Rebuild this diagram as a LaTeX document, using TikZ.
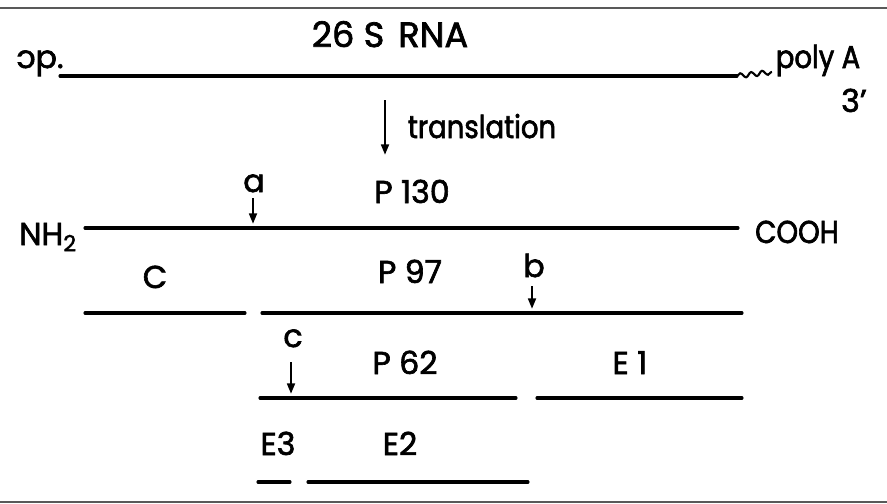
\documentclass[tikz,border=0pt]{standalone}
\usepackage{fontspec}
\setmainfont{Poppins}[FakeBold=2]
\newfontfamily\narrowfont{Poppins}[FakeStretch=0.87, FakeBold=2]
\usetikzlibrary{arrows.meta,decorations.pathmorphing}
\tikzset{
  lab/.style  = {font=\fontsize{27}{29}\selectfont, inner sep=0pt, anchor=base},
  nlab/.style = {lab, font=\fontsize{27}{29}\narrowfont},
  seg/.style  = {line width=2.6pt, line cap=round},
  cut/.style  = {line width=2.2pt, -{Triangle[length=9pt,width=6.5pt]}},
  rule/.style = {line width=1.2pt, black!65},
}

\begin{document}
\begin{tikzpicture}[x=0.3mm, y=-0.3mm]
  \useasboundingbox (0,0) rectangle (887,503);
  % page rules
  \draw[rule] (0,8) -- (887,8);
  \draw[rule] (0,502) -- (887,502);

  % messenger RNA
  \node[lab, font=\fontsize{30}{32}\selectfont] (rna) at (390,47)
    {26\hspace{8pt}S\hspace{12pt}RNA};
  \node[lab] (cap)   at (40,68)   {\reflectbox{c}p.};
  \node[nlab] (polyA) at (818,68) {poly A};
  \node[lab] (three) at (854,112) {3'};
  \draw[seg] (60,76) coordinate (r0) -- (737,76) coordinate (r1);
  \draw[line width=1.8pt, decorate,
        decoration={snake, amplitude=0.7mm, segment length=3.3mm}]
    (r1) -- (772,72) coordinate (r2);

  % translation
  \coordinate (t0) at (385,100);
  \coordinate (t1) at (385,155);
  \draw[cut] (t0) -- (t1);
  \node[nlab] (trans) at (482,138) {translation};

  % polyprotein
  \node[lab] (p130) at (412,203) {P 130};
  \node[lab] (nh2)  at (48,245)  {NH\textsubscript{2}};
  \node[nlab] (cooh) at (797,243) {COOH};
  \draw[seg] (85,228) -- (738,228);
  \node[lab] (sa) at (254,192) {a};
  \draw[cut] (253,198) coordinate (a0) -- (253,224) coordinate (a1);

  % first cleavage
  \node[lab] (capsid) at (155,288) {C};
  \node[lab] (p97)    at (410,283) {P 97};
  \draw[seg] (85,313) -- (245,313);
  \draw[seg] (262,313) -- (742,313);
  \node[lab] (sb) at (534,277) {b};
  \draw[cut] (532,286) coordinate (b0) -- (532,309) coordinate (b1);

  % second cleavage
  \node[lab] (p62) at (405,374) {P 62};
  \node[lab] (e1)  at (630,374) {E 1};
  \draw[seg] (260,398) -- (516,398);
  \draw[seg] (537,398) -- (742,398);
  \node[lab] (sc) at (293,347) {c};
  \draw[cut] (291,362) coordinate (c0) -- (291,394) coordinate (c1);

  % third cleavage
  \node[lab] (e3) at (278,455) {E3};
  \node[lab] (e2) at (400,455) {E2};
  \draw[seg] (258,482) -- (290,482);
  \draw[seg] (308,482) -- (528,482);
\end{tikzpicture}
\end{document}
